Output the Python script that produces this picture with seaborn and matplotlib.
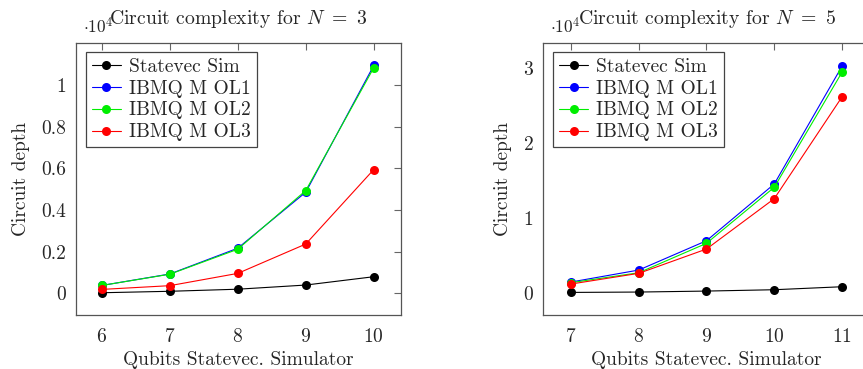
import matplotlib
matplotlib.use("Agg")
import matplotlib.pyplot as plt
import seaborn as sns
import pandas as pd
from matplotlib.ticker import FuncFormatter

# values (circuit depth)
qubits_n3 = [6, 7, 8, 9, 10]
statevec_n3 = [30, 100, 200, 400, 800]
ol1_n3 = [380, 930, 2170, 4860, 10950]
ol2_n3 = [380, 920, 2120, 4940, 10840]
ol3_n3 = [190, 370, 960, 2370, 5950]

qubits_n5 = [7, 8, 9, 10, 11]
statevec_n5 = [40, 90, 220, 400, 800]
ol1_n5 = [1430, 3030, 6950, 14530, 30270]
ol2_n5 = [1340, 2670, 6600, 14090, 29470]
ol3_n5 = [1160, 2590, 5840, 12570, 26170]

series_names = ["Statevec Sim", "IBMQ M OL1", "IBMQ M OL2", "IBMQ M OL3"]
series_colors = ["black", "#0000ff", "#00ee00", "#ff0000"]

sns.set_theme(style="white")
plt.rcParams["font.family"] = ["cmr10", "DejaVu Serif"]
plt.rcParams["mathtext.fontset"] = "cm"
plt.rcParams["axes.formatter.use_mathtext"] = True


def draw_panel(ax, qubits, values, n, xlim, ylim, yticks):
    frames = []
    for name, vals in zip(series_names, values):
        frames.append(pd.DataFrame({"qubits": qubits, "depth": vals, "series": name}))
    df = pd.concat(frames)
    sns.lineplot(data=df, x="qubits", y="depth", hue="series", palette=series_colors,
                 marker="o", markersize=6.5, markeredgewidth=0, linewidth=0.8, ax=ax)
    ax.set_xlim(*xlim)
    ax.set_ylim(*ylim)
    ax.set_xticks(qubits)
    ax.set_yticks(yticks)
    ax.yaxis.set_major_formatter(FuncFormatter(lambda v, p: f"{v / 1e4:g}"))
    ax.tick_params(direction="in", length=5, width=0.8, color="#666666",
                   labelsize=14, top=True, right=True, pad=7)
    ax.tick_params(axis="x", pad=9)
    for s in ax.spines.values():
        s.set_color("#555555")
        s.set_linewidth(0.9)
    ax.set_title(f"Circuit complexity for $N\\ =\\ {n}$", fontsize=14.2, pad=14)
    ax.text(0.022, 1.037, r"$\cdot 10^4$", transform=ax.transAxes, fontsize=12.5,
            ha="left", va="baseline")
    ax.set_xlabel("Qubits Statevec. Simulator", fontsize=14, labelpad=4)
    ax.set_ylabel("Circuit depth", fontsize=14, labelpad=8)
    ax.legend(loc="upper left", bbox_to_anchor=(0.031, 0.967), borderaxespad=0,
              fontsize=14, fancybox=False, edgecolor="#444444", framealpha=1,
              handlelength=1.5, labelspacing=0.2, borderpad=0.3, handletextpad=0.4)
    ax.get_legend().get_frame().set_linewidth(0.9)


fig = plt.figure(figsize=(8.63, 3.69), dpi=100)
ax1 = fig.add_axes([0.088, 0.1463, 0.3766, 0.7372])
ax2 = fig.add_axes([0.6292, 0.1463, 0.3789, 0.7372])

draw_panel(ax1, qubits_n3, [statevec_n3, ol1_n3, ol2_n3, ol3_n3], 3,
           (5.62, 10.4), (-1040, 12030), [0, 2000, 4000, 6000, 8000, 10000])
draw_panel(ax2, qubits_n5, [statevec_n5, ol1_n5, ol2_n5, ol3_n5], 5,
           (6.587, 11.413), (-2980, 33380), [0, 10000, 20000, 30000])

fig.savefig("out.png", dpi=100)
